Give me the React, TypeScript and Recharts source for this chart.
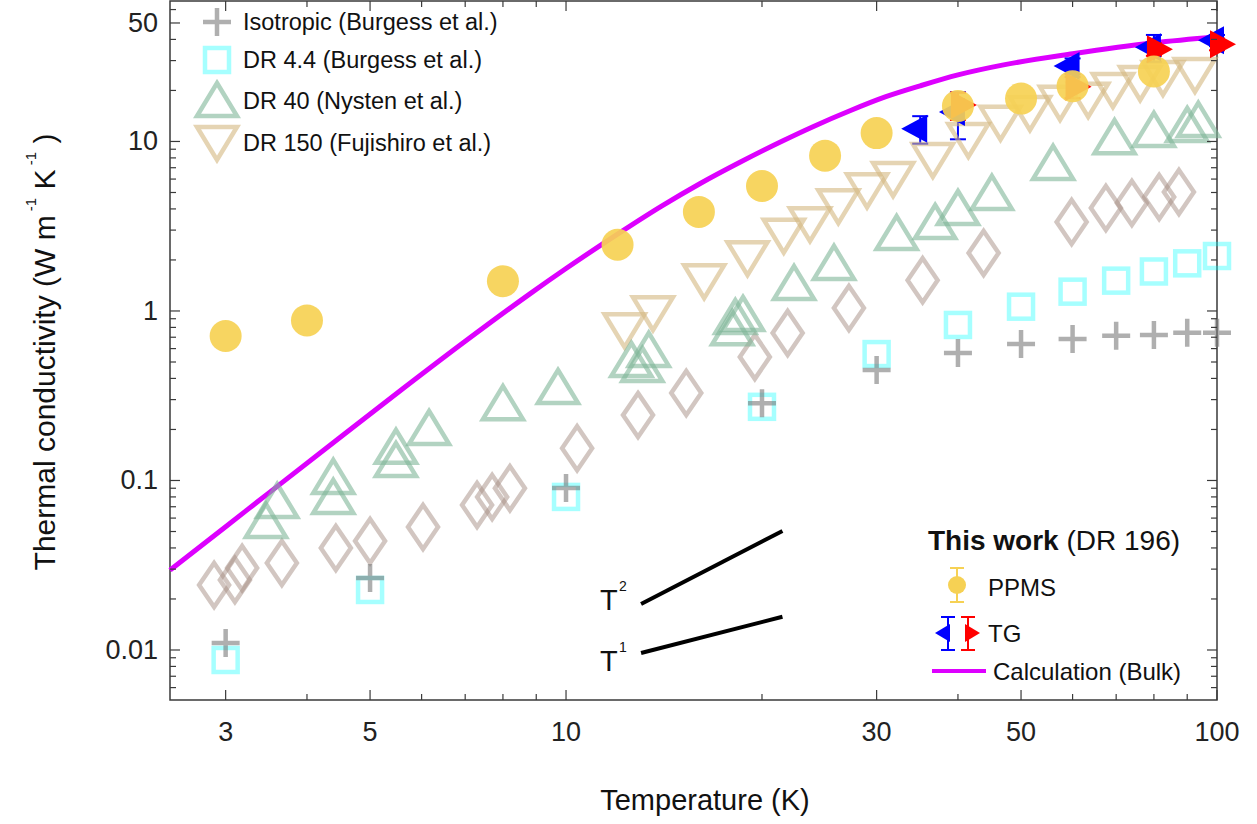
import React from "react";
import { ComposedChart, XAxis, YAxis, Scatter, Line, ErrorBar, ReferenceArea } from "recharts";

const W = 1257;
const H = 824;
const YAXIS_W = 170;
const XAXIS_H = 124;
const MARGIN = { top: 1, right: 40, left: 0, bottom: 0 };
const PLOT_W = W - YAXIS_W - MARGIN.right;
const PLOT_H = H - XAXIS_H - MARGIN.top;
const FONT = "'Liberation Sans', Arial, Helvetica, sans-serif";

const xDomain = [2.464, 100];
const yDomain = [0.00507, 67.4];
const xTicks = [3, 4, 5, 6, 7, 8, 9, 10, 20, 30, 40, 50, 60, 70, 80, 90, 100];
const xLabels = [3, 5, 10, 30, 50, 100];
const yTicks = [
  0.006, 0.007, 0.008, 0.009, 0.01, 0.02, 0.03, 0.04, 0.05, 0.06, 0.07, 0.08, 0.09,
  0.1, 0.2, 0.3, 0.4, 0.5, 0.6, 0.7, 0.8, 0.9, 1, 2, 3, 4, 5, 6, 7, 8, 9, 10, 20, 30, 40, 50, 60,
];
const yLabels = ["0.01", "0.1", "1", "10", "50"];

// Isotropic (Burgess et al.)
const isoT = [3, 5, 10, 20, 30, 40, 50, 60, 70, 80, 90, 100];
const isoK = [0.011, 0.0266, 0.0903, 0.286, 0.449, 0.565, 0.639, 0.684, 0.715, 0.722, 0.745, 0.745];

// DR 4.4 (Burgess et al.)
const dr44T = [3, 5, 10, 20, 30, 40, 50, 60, 70, 80, 90, 100];
const dr44K = [0.00873, 0.0226, 0.08, 0.272, 0.557, 0.827, 1.06, 1.3, 1.51, 1.71, 1.91, 2.11];

// DR 40 (Nysten et al.)
const dr40T = [3.46, 3.6, 4.39, 4.39, 5.48, 5.48, 6.16, 8.0, 9.72, 12.6, 13.4, 13.1, 18.2, 18.7, 18.0, 22.4, 25.8, 32.2, 36.9, 40.0, 45.1, 56, 69.6, 80, 90, 93.6];
const dr40K = [0.0577, 0.0757, 0.08, 0.105, 0.158, 0.132, 0.204, 0.286, 0.356, 0.514, 0.589, 0.48, 0.92, 0.96, 0.79, 1.46, 1.92, 2.88, 3.35, 4.05, 4.97, 7.47, 10.6, 11.7, 12.5, 13.4];

// DR 150 (Fujishiro et al.)
const dr150T = [12.3, 13.6, 16.3, 19.0, 21.6, 23.7, 26.2, 29.0, 31.8, 36.6, 41.5, 46.5, 51.6, 57.4, 63.4, 69.2, 76.2, 82.6, 92.5];
const dr150K = [0.77, 0.97, 1.5, 2.05, 2.78, 3.25, 4.15, 5.15, 6.0, 7.78, 10.2, 12.9, 14.7, 16.9, 17.6, 20.1, 22.1, 23.7, 24.7];

// unlabelled diamond series
const diaT = [2.88, 3.1, 3.18, 3.66, 4.43, 5.0, 6.03, 7.3, 7.7, 8.2, 10.4, 12.9, 15.3, 19.5, 21.9, 27.2, 35.3, 43.8, 59.8, 67.5, 74.0, 81.5, 87.4];
const diaK = [0.0242, 0.0259, 0.0305, 0.0326, 0.04, 0.044, 0.0532, 0.0717, 0.08, 0.09, 0.155, 0.243, 0.328, 0.536, 0.742, 1.04, 1.52, 2.2, 3.35, 4.05, 4.34, 4.7, 5.04];

// This work: PPMS
const ppmsT = [3, 4, 8, 12, 16, 20, 25, 30, 40, 50, 60, 80];
const ppmsK = [0.712, 0.88, 1.5, 2.46, 3.84, 5.46, 8.25, 11.2, 16.2, 17.9, 21.2, 25.9];

// This work: TG
const tgBlueT = [35, 40, 60, 80, 100];
const tgBlueK = [11.9, 14.9, 27.9, 36, 39.5];
const tgBlueErr = [2.2, 4.6, 3, 6.5, 3];
const tgRedT = [40, 60, 80, 100];
const tgRedK = [16.4, 21, 35, 37.5];
const tgRedErr = [3, 3, 3, 3];

// Calculation (Bulk)
const calcT = [2.464, 3, 3.5, 4.5, 5.6, 7, 8.8, 10, 12, 14, 16.1, 18.5, 21.5, 24, 27.3, 31, 35, 40, 47, 60, 80, 100];
const calcK = [0.0296, 0.0534, 0.0848, 0.18, 0.345, 0.662, 1.262, 1.78, 2.84, 4.14, 5.67, 7.54, 10.07, 12.27, 15.18, 18.37, 21.3, 24.7, 28.3, 32.9, 38.2, 41.5];

// slope guides
const t2T = [13.04, 21.5];
const t2K = [0.0187, 0.0504];
const t1T = [13.04, 21.5];
const t1K = [0.0096, 0.0157];

const pts = (T: number[], K: number[], E?: number[]) =>
  T.map((t, i) => ({ T: t, k: K[i], err: E ? E[i] : 0 }));

const AX = "#3a3a3a";

const XTick = (props: any) => {
  const { x, y, payload } = props;
  const v = payload.value;
  const major = xLabels.includes(v);
  const len = major ? 10 : 6;
  return (
    <g>
      <line x1={x} x2={x} y1={y} y2={y - len} stroke={AX} strokeWidth={1.2} />
      <line x1={x} x2={x} y1={y - PLOT_H} y2={y - PLOT_H + len} stroke={AX} strokeWidth={1.2} />
      {major && (
        <text x={x} y={y + 32} textAnchor="middle" dominantBaseline="central" fontSize={27} fontFamily={FONT} fill="#222">
          {v}
        </text>
      )}
    </g>
  );
};

const YTick = (props: any) => {
  const { x, y, payload } = props;
  const label = String(+payload.value.toPrecision(3));
  const major = yLabels.includes(label) || [0.01, 0.1, 1, 10].some((m) => Math.abs(payload.value - m) < 1e-9);
  const len = major ? 10 : 6;
  return (
    <g>
      <line x1={x} x2={x + len} y1={y} y2={y} stroke={AX} strokeWidth={1.2} />
      <line x1={x + PLOT_W} x2={x + PLOT_W - len} y1={y} y2={y} stroke={AX} strokeWidth={1.2} />
      {yLabels.includes(label) && (
        <text x={x - 12} y={y} textAnchor="end" dominantBaseline="central" fontSize={27} fontFamily={FONT} fill="#222">
          {label}
        </text>
      )}
    </g>
  );
};

const PlusShape = ({ cx, cy }: any) => (
  <path d={`M${cx - 14},${cy}H${cx + 14}M${cx},${cy - 14}V${cy + 14}`} stroke="#7a7a7a" strokeOpacity={0.6} strokeWidth={4.5} fill="none" />
);
const SquareShape = ({ cx, cy }: any) => (
  <rect x={cx - 12} y={cy - 12} width={24} height={24} stroke="#00ffff" strokeOpacity={0.35} strokeWidth={4.5} fill="none" />
);
const UpTri = ({ cx, cy }: any) => (
  <polygon points={`${cx},${cy - 17} ${cx + 20},${cy + 16} ${cx - 20},${cy + 16}`} stroke="#7fb597" strokeOpacity={0.6} strokeWidth={4.5} fill="none" />
);
const DownTri = ({ cx, cy }: any) => (
  <polygon points={`${cx - 20},${cy - 16} ${cx + 20},${cy - 16} ${cx},${cy + 17}`} stroke="#d4b880" strokeOpacity={0.6} strokeWidth={4.5} fill="none" />
);
const DiamondShape = ({ cx, cy }: any) => (
  <polygon points={`${cx},${cy - 22} ${cx + 15},${cy} ${cx},${cy + 22} ${cx - 15},${cy}`} stroke="#a58d84" strokeOpacity={0.5} strokeWidth={4.5} fill="none" />
);
const CircleShape = ({ cx, cy }: any) => (
  <circle cx={cx} cy={cy} r={16} fill="#f6d154" fillOpacity={0.92} />
);
const LeftTri = ({ cx, cy }: any) => (
  <polygon points={`${cx - 19},${cy} ${cx + 7},${cy - 14} ${cx + 7},${cy + 14}`} fill="#0000ff" />
);
const RightTri = ({ cx, cy }: any) => (
  <polygon points={`${cx - 7},${cy - 14} ${cx - 7},${cy + 14} ${cx + 19},${cy}`} fill="#ff0000" />
);

const txt = { fontFamily: FONT, fill: "#111" } as const;

const Overlay = () => (
  <svg width={W} height={H} style={{ position: "absolute", left: 0, top: 0, pointerEvents: "none" }}>
    {/* axis titles */}
    <text x={705} y={800} textAnchor="middle" dominantBaseline="central" fontSize={29} {...txt}>
      Temperature (K)
    </text>
    <g transform="translate(44,352) rotate(-90)">
      <text x={0} y={0} textAnchor="middle" dominantBaseline="central" fontSize={30} {...txt}>
        Thermal conductivity (W m
        <tspan fontSize={15} dy={-14}> -1</tspan>
        <tspan dy={14}> K</tspan>
        <tspan fontSize={15} dy={-14}> -1</tspan>
        <tspan dy={14}> )</tspan>
      </text>
    </g>

    {/* literature legend */}
    <PlusShape cx={217} cy={22} />
    <text x={243} y={22} dominantBaseline="central" fontSize={23.5} {...txt}>Isotropic (Burgess et al.)</text>
    <SquareShape cx={217} cy={60} />
    <text x={243} y={60} dominantBaseline="central" fontSize={23.5} {...txt}>DR 4.4 (Burgess et al.)</text>
    <UpTri cx={217} cy={100} />
    <text x={243} y={101} dominantBaseline="central" fontSize={23.5} {...txt}>DR 40 (Nysten et al.)</text>
    <DownTri cx={217} cy={143} />
    <text x={243} y={143} dominantBaseline="central" fontSize={23.5} {...txt}>DR 150 (Fujishiro et al.)</text>

    {/* this work legend */}
    <text x={928} y={540} dominantBaseline="central" fontSize={28} {...txt}>
      <tspan fontWeight="bold">This work</tspan> (DR 196)
    </text>
    <path d="M950,568H964M957,568V602M950,602H964" stroke="#f6d154" strokeWidth={2} />
    <circle cx={957} cy={585} r={9} fill="#f6d154" />
    <text x={988} y={587} dominantBaseline="central" fontSize={24} {...txt}>PPMS</text>
    <path d="M941,617H955M948,617V650M941,650H955" stroke="#0000ff" strokeWidth={2} />
    <polygon points="935,633 950,624 950,642" fill="#0000ff" />
    <path d="M961,617H975M968,617V650M961,650H975" stroke="#ff0000" strokeWidth={2} />
    <polygon points="965,624 965,642 980,633" fill="#ff0000" />
    <text x={988} y={633} dominantBaseline="central" fontSize={24} {...txt}>TG</text>
    <line x1={932} x2={986} y1={671} y2={671} stroke="#dd00ff" strokeWidth={4} />
    <text x={993} y={671} dominantBaseline="central" fontSize={24} {...txt}>Calculation (Bulk)</text>

    {/* slope labels */}
    <text x={600} y={600} dominantBaseline="central" fontSize={29} {...txt}>T</text>
    <text x={619} y={586} dominantBaseline="central" fontSize={14} {...txt}>2</text>
    <text x={600} y={661} dominantBaseline="central" fontSize={29} {...txt}>T</text>
    <text x={619} y={647} dominantBaseline="central" fontSize={14} {...txt}>1</text>
  </svg>
);

export default function App() {
  return (
    <div style={{ position: "absolute", left: 0, top: 0, width: W, height: H, background: "#fff" }}>
      <ComposedChart width={W} height={H} margin={MARGIN}>
        <XAxis
          dataKey="T"
          type="number"
          scale="log"
          domain={xDomain}
          ticks={xTicks}
          interval={0}
          tick={<XTick />}
          tickLine={false}
          axisLine={false}
          tickSize={0}
          tickMargin={0}
          height={XAXIS_H}
        />
        <YAxis
          dataKey="k"
          type="number"
          scale="log"
          domain={yDomain}
          ticks={yTicks}
          interval={0}
          tick={<YTick />}
          tickLine={false}
          axisLine={false}
          tickSize={0}
          tickMargin={0}
          width={YAXIS_W}
        />
        <ReferenceArea x1={xDomain[0]} x2={xDomain[1]} y1={yDomain[0]} y2={yDomain[1]} fill="none" stroke={AX} strokeWidth={1.5} />

        <Line data={pts(calcT, calcK)} dataKey="k" type="monotone" stroke="#dd00ff" strokeWidth={5} dot={false} activeDot={false} isAnimationActive={false} />
        <Line data={pts(t2T, t2K)} dataKey="k" type="linear" stroke="#000" strokeWidth={4} dot={false} activeDot={false} isAnimationActive={false} />
        <Line data={pts(t1T, t1K)} dataKey="k" type="linear" stroke="#000" strokeWidth={4} dot={false} activeDot={false} isAnimationActive={false} />

        <Scatter data={pts(diaT, diaK)} dataKey="k" shape={(p: any) => <DiamondShape {...p} />} isAnimationActive={false} />
        <Scatter data={pts(dr150T, dr150K)} dataKey="k" shape={(p: any) => <DownTri {...p} />} isAnimationActive={false} />
        <Scatter data={pts(dr40T, dr40K)} dataKey="k" shape={(p: any) => <UpTri {...p} />} isAnimationActive={false} />
        <Scatter data={pts(dr44T, dr44K)} dataKey="k" shape={(p: any) => <SquareShape {...p} />} isAnimationActive={false} />
        <Scatter data={pts(isoT, isoK)} dataKey="k" shape={(p: any) => <PlusShape {...p} />} isAnimationActive={false} />

        <Scatter data={pts(tgBlueT, tgBlueK, tgBlueErr)} dataKey="k" shape={(p: any) => <LeftTri {...p} />} isAnimationActive={false}>
          <ErrorBar dataKey="err" direction="y" width={8} stroke="#0000ff" strokeWidth={2} />
        </Scatter>
        <Scatter data={pts(tgRedT, tgRedK, tgRedErr)} dataKey="k" shape={(p: any) => <RightTri {...p} />} isAnimationActive={false}>
          <ErrorBar dataKey="err" direction="y" width={8} stroke="#ff0000" strokeWidth={2} />
        </Scatter>
        <Scatter data={pts(ppmsT, ppmsK)} dataKey="k" shape={(p: any) => <CircleShape {...p} />} isAnimationActive={false} />
      </ComposedChart>
      <Overlay />
    </div>
  );
}
